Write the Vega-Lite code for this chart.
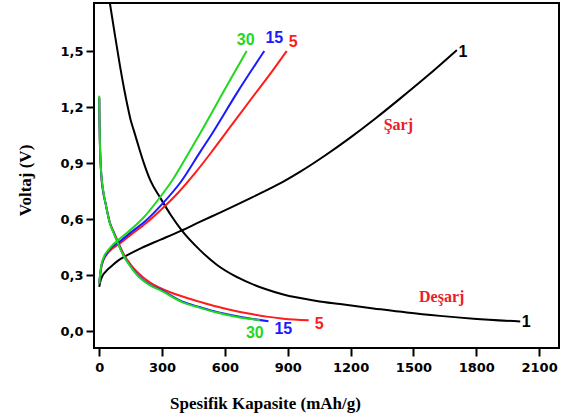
{
  "$schema": "https://vega.github.io/schema/vega-lite/v6.json",
  "width": 465,
  "height": 345,
  "autosize": "none",
  "padding": {"left": 94, "top": 3, "right": 3, "bottom": 71},
  "background": "white",
  "config": {
    "view": {"stroke": "black", "strokeWidth": 2},
    "axis": {"domain": false, "grid": false, "tickColor": "black", "tickWidth": 2, "labelColor": "black", "titleColor": "black"}
  },
  "datasets": {
    "curves": [
      {"cycle": "1", "mode": "charge", "capacity": 0, "voltage": 0.237},
      {"cycle": "1", "mode": "charge", "capacity": 5, "voltage": 0.265},
      {"cycle": "1", "mode": "charge", "capacity": 15, "voltage": 0.295},
      {"cycle": "1", "mode": "charge", "capacity": 30, "voltage": 0.318},
      {"cycle": "1", "mode": "charge", "capacity": 54, "voltage": 0.344},
      {"cycle": "1", "mode": "charge", "capacity": 90, "voltage": 0.378},
      {"cycle": "1", "mode": "charge", "capacity": 134, "voltage": 0.407},
      {"cycle": "1", "mode": "charge", "capacity": 200, "voltage": 0.445},
      {"cycle": "1", "mode": "charge", "capacity": 293, "voltage": 0.49},
      {"cycle": "1", "mode": "charge", "capacity": 389, "voltage": 0.537},
      {"cycle": "1", "mode": "charge", "capacity": 480, "voltage": 0.585},
      {"cycle": "1", "mode": "charge", "capacity": 561, "voltage": 0.627},
      {"cycle": "1", "mode": "charge", "capacity": 640, "voltage": 0.668},
      {"cycle": "1", "mode": "charge", "capacity": 720, "voltage": 0.711},
      {"cycle": "1", "mode": "charge", "capacity": 800, "voltage": 0.755},
      {"cycle": "1", "mode": "charge", "capacity": 879, "voltage": 0.801},
      {"cycle": "1", "mode": "charge", "capacity": 958, "voltage": 0.853},
      {"cycle": "1", "mode": "charge", "capacity": 1080, "voltage": 0.942},
      {"cycle": "1", "mode": "charge", "capacity": 1197, "voltage": 1.035},
      {"cycle": "1", "mode": "charge", "capacity": 1320, "voltage": 1.14},
      {"cycle": "1", "mode": "charge", "capacity": 1436, "voltage": 1.245},
      {"cycle": "1", "mode": "charge", "capacity": 1570, "voltage": 1.37},
      {"cycle": "1", "mode": "charge", "capacity": 1707, "voltage": 1.505},

      {"cycle": "1", "mode": "discharge", "capacity": 51, "voltage": 1.755},
      {"cycle": "1", "mode": "discharge", "capacity": 75, "voltage": 1.585},
      {"cycle": "1", "mode": "discharge", "capacity": 99, "voltage": 1.42},
      {"cycle": "1", "mode": "discharge", "capacity": 120, "voltage": 1.29},
      {"cycle": "1", "mode": "discharge", "capacity": 140, "voltage": 1.18},
      {"cycle": "1", "mode": "discharge", "capacity": 150, "voltage": 1.13},
      {"cycle": "1", "mode": "discharge", "capacity": 165, "voltage": 1.075},
      {"cycle": "1", "mode": "discharge", "capacity": 185, "voltage": 1.0},
      {"cycle": "1", "mode": "discharge", "capacity": 213, "voltage": 0.9},
      {"cycle": "1", "mode": "discharge", "capacity": 243, "voltage": 0.81},
      {"cycle": "1", "mode": "discharge", "capacity": 293, "voltage": 0.711},
      {"cycle": "1", "mode": "discharge", "capacity": 340, "voltage": 0.625},
      {"cycle": "1", "mode": "discharge", "capacity": 393, "voltage": 0.541},
      {"cycle": "1", "mode": "discharge", "capacity": 481, "voltage": 0.434},
      {"cycle": "1", "mode": "discharge", "capacity": 561, "voltage": 0.356},
      {"cycle": "1", "mode": "discharge", "capacity": 640, "voltage": 0.3},
      {"cycle": "1", "mode": "discharge", "capacity": 720, "voltage": 0.257},
      {"cycle": "1", "mode": "discharge", "capacity": 800, "voltage": 0.223},
      {"cycle": "1", "mode": "discharge", "capacity": 879, "voltage": 0.196},
      {"cycle": "1", "mode": "discharge", "capacity": 1038, "voltage": 0.162},
      {"cycle": "1", "mode": "discharge", "capacity": 1150, "voltage": 0.145},
      {"cycle": "1", "mode": "discharge", "capacity": 1309, "voltage": 0.122},
      {"cycle": "1", "mode": "discharge", "capacity": 1468, "voltage": 0.1},
      {"cycle": "1", "mode": "discharge", "capacity": 1627, "voltage": 0.082},
      {"cycle": "1", "mode": "discharge", "capacity": 1787, "voltage": 0.067},
      {"cycle": "1", "mode": "discharge", "capacity": 2010, "voltage": 0.052},

      {"cycle": "5", "mode": "charge", "capacity": 0, "voltage": 0.255},
      {"cycle": "5", "mode": "charge", "capacity": 8, "voltage": 0.33},
      {"cycle": "5", "mode": "charge", "capacity": 20, "voltage": 0.38},
      {"cycle": "5", "mode": "charge", "capacity": 35, "voltage": 0.41},
      {"cycle": "5", "mode": "charge", "capacity": 60, "voltage": 0.44},
      {"cycle": "5", "mode": "charge", "capacity": 86, "voltage": 0.46},
      {"cycle": "5", "mode": "charge", "capacity": 147, "voltage": 0.513},
      {"cycle": "5", "mode": "charge", "capacity": 226, "voltage": 0.58},
      {"cycle": "5", "mode": "charge", "capacity": 300, "voltage": 0.655},
      {"cycle": "5", "mode": "charge", "capacity": 380, "voltage": 0.745},
      {"cycle": "5", "mode": "charge", "capacity": 460, "voltage": 0.85},
      {"cycle": "5", "mode": "charge", "capacity": 540, "voltage": 0.965},
      {"cycle": "5", "mode": "charge", "capacity": 630, "voltage": 1.1},
      {"cycle": "5", "mode": "charge", "capacity": 720, "voltage": 1.235},
      {"cycle": "5", "mode": "charge", "capacity": 810, "voltage": 1.368},
      {"cycle": "5", "mode": "charge", "capacity": 895, "voltage": 1.5},

      {"cycle": "5", "mode": "discharge", "capacity": 0, "voltage": 1.25},
      {"cycle": "5", "mode": "discharge", "capacity": 1, "voltage": 1.14},
      {"cycle": "5", "mode": "discharge", "capacity": 3, "voltage": 1.01},
      {"cycle": "5", "mode": "discharge", "capacity": 6, "voltage": 0.91},
      {"cycle": "5", "mode": "discharge", "capacity": 10, "voltage": 0.83},
      {"cycle": "5", "mode": "discharge", "capacity": 18, "voltage": 0.75},
      {"cycle": "5", "mode": "discharge", "capacity": 31, "voltage": 0.68},
      {"cycle": "5", "mode": "discharge", "capacity": 50, "voltage": 0.585},
      {"cycle": "5", "mode": "discharge", "capacity": 70, "voltage": 0.53},
      {"cycle": "5", "mode": "discharge", "capacity": 95, "voltage": 0.465},
      {"cycle": "5", "mode": "discharge", "capacity": 118, "voltage": 0.41},
      {"cycle": "5", "mode": "discharge", "capacity": 150, "voltage": 0.357},
      {"cycle": "5", "mode": "discharge", "capacity": 181, "voltage": 0.317},
      {"cycle": "5", "mode": "discharge", "capacity": 243, "voltage": 0.26},
      {"cycle": "5", "mode": "discharge", "capacity": 293, "voltage": 0.23},
      {"cycle": "5", "mode": "discharge", "capacity": 401, "voltage": 0.184},
      {"cycle": "5", "mode": "discharge", "capacity": 482, "voltage": 0.157},
      {"cycle": "5", "mode": "discharge", "capacity": 561, "voltage": 0.132},
      {"cycle": "5", "mode": "discharge", "capacity": 640, "voltage": 0.111},
      {"cycle": "5", "mode": "discharge", "capacity": 720, "voltage": 0.093},
      {"cycle": "5", "mode": "discharge", "capacity": 799, "voltage": 0.078},
      {"cycle": "5", "mode": "discharge", "capacity": 879, "voltage": 0.067},
      {"cycle": "5", "mode": "discharge", "capacity": 1000, "voltage": 0.058},

      {"cycle": "15", "mode": "charge", "capacity": 0, "voltage": 0.255},
      {"cycle": "15", "mode": "charge", "capacity": 8, "voltage": 0.335},
      {"cycle": "15", "mode": "charge", "capacity": 20, "voltage": 0.385},
      {"cycle": "15", "mode": "charge", "capacity": 35, "voltage": 0.415},
      {"cycle": "15", "mode": "charge", "capacity": 60, "voltage": 0.45},
      {"cycle": "15", "mode": "charge", "capacity": 86, "voltage": 0.47},
      {"cycle": "15", "mode": "charge", "capacity": 147, "voltage": 0.525},
      {"cycle": "15", "mode": "charge", "capacity": 226, "voltage": 0.595},
      {"cycle": "15", "mode": "charge", "capacity": 300, "voltage": 0.68},
      {"cycle": "15", "mode": "charge", "capacity": 390, "voltage": 0.8},
      {"cycle": "15", "mode": "charge", "capacity": 482, "voltage": 0.96},
      {"cycle": "15", "mode": "charge", "capacity": 540, "voltage": 1.06},
      {"cycle": "15", "mode": "charge", "capacity": 660, "voltage": 1.28},
      {"cycle": "15", "mode": "charge", "capacity": 788, "voltage": 1.5},

      {"cycle": "15", "mode": "discharge", "capacity": 0, "voltage": 1.25},
      {"cycle": "15", "mode": "discharge", "capacity": 1, "voltage": 1.145},
      {"cycle": "15", "mode": "discharge", "capacity": 3, "voltage": 1.015},
      {"cycle": "15", "mode": "discharge", "capacity": 6, "voltage": 0.915},
      {"cycle": "15", "mode": "discharge", "capacity": 10, "voltage": 0.835},
      {"cycle": "15", "mode": "discharge", "capacity": 18, "voltage": 0.755},
      {"cycle": "15", "mode": "discharge", "capacity": 31, "voltage": 0.68},
      {"cycle": "15", "mode": "discharge", "capacity": 50, "voltage": 0.582},
      {"cycle": "15", "mode": "discharge", "capacity": 70, "voltage": 0.525},
      {"cycle": "15", "mode": "discharge", "capacity": 95, "voltage": 0.457},
      {"cycle": "15", "mode": "discharge", "capacity": 118, "voltage": 0.402},
      {"cycle": "15", "mode": "discharge", "capacity": 150, "voltage": 0.347},
      {"cycle": "15", "mode": "discharge", "capacity": 181, "voltage": 0.303},
      {"cycle": "15", "mode": "discharge", "capacity": 243, "voltage": 0.248},
      {"cycle": "15", "mode": "discharge", "capacity": 293, "voltage": 0.222},
      {"cycle": "15", "mode": "discharge", "capacity": 401, "voltage": 0.156},
      {"cycle": "15", "mode": "discharge", "capacity": 482, "voltage": 0.128},
      {"cycle": "15", "mode": "discharge", "capacity": 561, "voltage": 0.103},
      {"cycle": "15", "mode": "discharge", "capacity": 640, "voltage": 0.084},
      {"cycle": "15", "mode": "discharge", "capacity": 720, "voltage": 0.068},
      {"cycle": "15", "mode": "discharge", "capacity": 808, "voltage": 0.053},

      {"cycle": "30", "mode": "charge", "capacity": 0, "voltage": 0.255},
      {"cycle": "30", "mode": "charge", "capacity": 8, "voltage": 0.34},
      {"cycle": "30", "mode": "charge", "capacity": 22, "voltage": 0.398},
      {"cycle": "30", "mode": "charge", "capacity": 40, "voltage": 0.43},
      {"cycle": "30", "mode": "charge", "capacity": 60, "voltage": 0.457},
      {"cycle": "30", "mode": "charge", "capacity": 80, "voltage": 0.478},
      {"cycle": "30", "mode": "charge", "capacity": 147, "voltage": 0.54},
      {"cycle": "30", "mode": "charge", "capacity": 213, "voltage": 0.61},
      {"cycle": "30", "mode": "charge", "capacity": 282, "voltage": 0.705},
      {"cycle": "30", "mode": "charge", "capacity": 353, "voltage": 0.815},
      {"cycle": "30", "mode": "charge", "capacity": 420, "voltage": 0.94},
      {"cycle": "30", "mode": "charge", "capacity": 482, "voltage": 1.06},
      {"cycle": "30", "mode": "charge", "capacity": 540, "voltage": 1.175},
      {"cycle": "30", "mode": "charge", "capacity": 620, "voltage": 1.335},
      {"cycle": "30", "mode": "charge", "capacity": 704, "voltage": 1.5},

      {"cycle": "30", "mode": "discharge", "capacity": 0, "voltage": 1.26},
      {"cycle": "30", "mode": "discharge", "capacity": 1, "voltage": 1.15},
      {"cycle": "30", "mode": "discharge", "capacity": 3, "voltage": 1.02},
      {"cycle": "30", "mode": "discharge", "capacity": 6, "voltage": 0.92},
      {"cycle": "30", "mode": "discharge", "capacity": 10, "voltage": 0.84},
      {"cycle": "30", "mode": "discharge", "capacity": 18, "voltage": 0.76},
      {"cycle": "30", "mode": "discharge", "capacity": 31, "voltage": 0.68},
      {"cycle": "30", "mode": "discharge", "capacity": 50, "voltage": 0.58},
      {"cycle": "30", "mode": "discharge", "capacity": 70, "voltage": 0.523},
      {"cycle": "30", "mode": "discharge", "capacity": 95, "voltage": 0.455},
      {"cycle": "30", "mode": "discharge", "capacity": 118, "voltage": 0.4},
      {"cycle": "30", "mode": "discharge", "capacity": 150, "voltage": 0.345},
      {"cycle": "30", "mode": "discharge", "capacity": 181, "voltage": 0.3},
      {"cycle": "30", "mode": "discharge", "capacity": 243, "voltage": 0.245},
      {"cycle": "30", "mode": "discharge", "capacity": 293, "voltage": 0.218},
      {"cycle": "30", "mode": "discharge", "capacity": 401, "voltage": 0.153},
      {"cycle": "30", "mode": "discharge", "capacity": 482, "voltage": 0.125},
      {"cycle": "30", "mode": "discharge", "capacity": 561, "voltage": 0.1},
      {"cycle": "30", "mode": "discharge", "capacity": 640, "voltage": 0.08},
      {"cycle": "30", "mode": "discharge", "capacity": 720, "voltage": 0.065},
      {"cycle": "30", "mode": "discharge", "capacity": 767, "voltage": 0.058}
    ],
    "nums": [
      {"label": "30", "cycle": "30", "capacity": 699, "voltage": 1.532},
      {"label": "15", "cycle": "15", "capacity": 836, "voltage": 1.541},
      {"label": "5", "cycle": "5", "capacity": 926, "voltage": 1.523},
      {"label": "1", "cycle": "1", "capacity": 1737, "voltage": 1.469},
      {"label": "30", "cycle": "30", "capacity": 743, "voltage": -0.039},
      {"label": "15", "cycle": "15", "capacity": 879, "voltage": -0.016},
      {"label": "5", "cycle": "5", "capacity": 1050, "voltage": 0.014},
      {"label": "1", "cycle": "1", "capacity": 2039, "voltage": 0.023}
    ],
    "words": [
      {"label": "Şarj", "capacity": 1428, "voltage": 1.077},
      {"label": "Deşarj", "capacity": 1635, "voltage": 0.157}
    ]
  },
  "layer": [
    {
      "data": {"name": "curves"},
      "mark": {"type": "line", "strokeWidth": 2, "interpolate": "monotone"},
      "encoding": {
        "x": {
          "field": "capacity", "type": "quantitative",
          "scale": {"domain": [-25, 2195], "nice": false, "zero": false},
          "axis": {
            "orient": "bottom", "ticks": true, "zindex": 2, "tickColor": "black",
            "values": [0, 150, 300, 450, 600, 750, 900, 1050, 1200, 1350, 1500, 1650, 1800, 1950, 2100],
            "labelExpr": "datum.value % 300 === 0 ? format(datum.value, 'd') : ''",
            "tickSize": {"condition": {"test": "datum.value % 300 === 0", "value": 8}, "value": 4.5},
            "labelFont": "DejaVu Sans", "labelFontWeight": "bold", "labelFontSize": 13, "labelPadding": 5,
            "title": "Spesifik Kapasite (mAh/g)",
            "titleFont": "Liberation Serif", "titleFontSize": 17, "titleFontWeight": "bold",
            "titleX": 171, "titleY": 60, "titleAlign": "center", "titleBaseline": "alphabetic"
          }
        },
        "y": {
          "field": "voltage", "type": "quantitative",
          "scale": {"domain": [-0.09, 1.757], "nice": false, "zero": false},
          "axis": {
            "orient": "left", "ticks": true, "zindex": 2, "tickColor": "black",
            "values": [0, 0.15, 0.3, 0.45, 0.6, 0.75, 0.9, 1.05, 1.2, 1.35, 1.5, 1.65],
            "labelExpr": "abs(datum.value / 0.3 - round(datum.value / 0.3)) < 0.01 ? replace(format(datum.value, '.1f'), '.', ',') : ''",
            "tickSize": {"condition": {"test": "abs(datum.value / 0.3 - round(datum.value / 0.3)) < 0.01", "value": 8}, "value": 4.5},
            "labelFont": "DejaVu Sans", "labelFontWeight": "bold", "labelFontSize": 13, "labelPadding": 3,
            "title": "Voltaj (V)",
            "titleFont": "Liberation Serif", "titleFontSize": 17, "titleFontWeight": "bold",
            "titleAngle": -90, "titleX": -64, "titleY": 177, "titleAlign": "center", "titleBaseline": "alphabetic"
          }
        },
        "color": {
          "field": "cycle", "type": "nominal",
          "scale": {"domain": ["1", "5", "15", "30"], "range": ["#000000", "#ff1c1c", "#1a1aff", "#1fd81f"]},
          "legend": null
        },
        "detail": {"field": "mode", "type": "nominal"}
      }
    },
    {
      "data": {"name": "nums"},
      "mark": {"type": "text", "font": "Liberation Sans", "fontWeight": "bold", "fontSize": 16, "align": "center", "baseline": "alphabetic"},
      "encoding": {
        "x": {"field": "capacity", "type": "quantitative"},
        "y": {"field": "voltage", "type": "quantitative"},
        "text": {"field": "label", "type": "nominal"},
        "color": {"field": "cycle", "type": "nominal", "legend": null}
      }
    },
    {
      "data": {"name": "words"},
      "mark": {"type": "text", "font": "Liberation Serif", "fontWeight": "bold", "fontSize": 16, "align": "center", "baseline": "alphabetic", "color": "#e8202a"},
      "encoding": {
        "x": {"field": "capacity", "type": "quantitative"},
        "y": {"field": "voltage", "type": "quantitative"},
        "text": {"field": "label", "type": "nominal"}
      }
    }
  ]
}
